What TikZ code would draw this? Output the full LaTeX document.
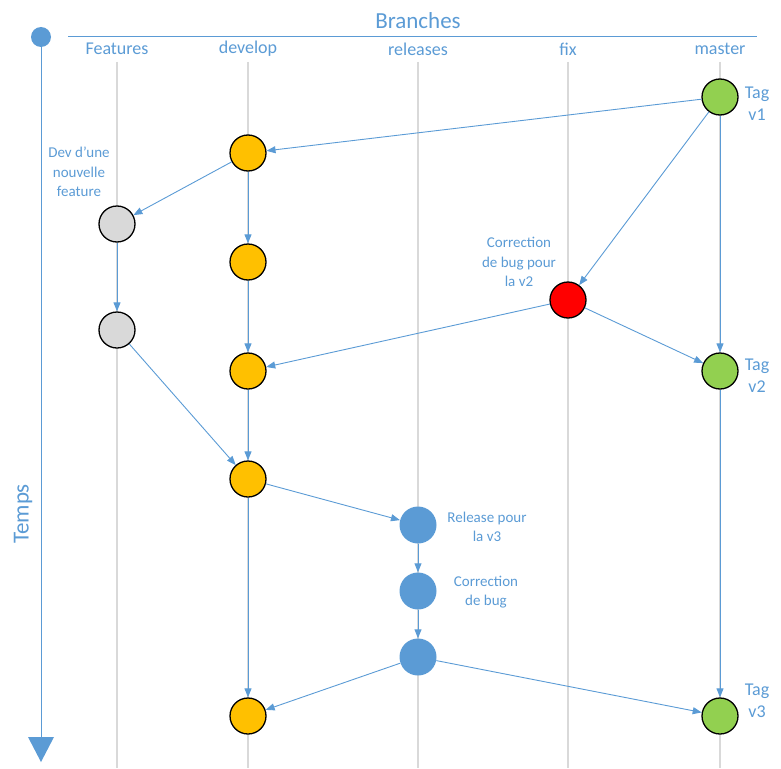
\documentclass[tikz,border=0pt]{standalone}
\usepackage{fontspec}
\setmainfont{Carlito}
\usetikzlibrary{arrows.meta}
\definecolor{cblue}{HTML}{5B9BD5}
\definecolor{cgray}{HTML}{D9D9D9}
\definecolor{corange}{HTML}{FFC000}
\definecolor{cgreen}{HTML}{92D050}
\definecolor{cred}{HTML}{FF0000}
\tikzset{
  commit/.style={circle,minimum size=36pt,inner sep=0pt,draw=black,line width=1.3pt},
  dv/.style={commit,fill=corange},
  ft/.style={commit,fill=cgray},
  ms/.style={commit,fill=cgreen},
  fx/.style={commit,fill=cred},
  rl/.style={circle,minimum size=37pt,inner sep=0pt,fill=cblue},
  lane/.style={draw=cgray,line width=1.3pt},
  conn/.style={draw=cblue,line width=0.9pt,-{Triangle[length=9pt,width=7pt]}},
  note/.style={text=cblue,font=\fontsize{15}{19.5}\selectfont,align=center},
  tag/.style={text=cblue,font=\fontsize{18}{22}\selectfont,align=center},
  colhead/.style={text=cblue,font=\fontsize{18}{20}\selectfont},
}
\begin{document}
\begin{tikzpicture}[x=1pt,y=-1pt]
\useasboundingbox (0,0) rectangle (781,768);
% lanes
\foreach \x/\n in {117/lf,248/ld,418/lr,568/lx,720/lm}{
  \coordinate (\n t) at (\x,62);
  \coordinate (\n b) at (\x,768);
  \draw[lane] (\n t) -- (\n b);
}
% header
\node[text=cblue,font=\fontsize{23}{25}\selectfont] (title) at (418,21) {Branches};
\coordinate (hl) at (68,36);
\coordinate (hr) at (757,36);
\draw[cblue,line width=0.9pt] (hl) -- (hr);
\node[colhead] (hf) at (117,49) {Features};
\node[colhead] (hd) at (248,49) {develop};
\node[colhead] (hr2) at (418,49) {releases};
\node[colhead] (hx) at (568,49) {fix};
\node[colhead] (hm) at (720,49) {master};
% time axis
\node[circle,fill=cblue,minimum size=20pt,inner sep=0pt] (t0) at (41,37) {};
\coordinate (tend) at (41,740);
\draw[cblue,line width=0.9pt] (t0) -- (tend);
\fill[cblue] (28,737) -- (54,737) -- (41,762) -- cycle;
\node[text=cblue,font=\fontsize{23}{25}\selectfont,rotate=90] (temps) at (23,514) {Temps};
% commits
\node[ms] (m1) at (720,97) {};
\node[dv] (d1) at (248,153) {};
\node[ft] (f1) at (117,224) {};
\node[dv] (d2) at (248,262) {};
\node[fx] (x1) at (568,300) {};
\node[ft] (f2) at (117,330) {};
\node[dv] (d3) at (248,371) {};
\node[ms] (m2) at (720,371) {};
\node[dv] (d4) at (248,479) {};
\node[rl] (r1) at (418,525) {};
\node[rl] (r2) at (418,591) {};
\node[rl] (r3) at (418,657) {};
\node[dv] (d5) at (248,716) {};
\node[ms] (m3) at (720,716) {};
% connectors
\draw[conn] (m1) -- (d1);
\draw[conn] (m1) -- (x1);
\draw[conn] (m1) -- (m2);
\draw[conn] (d1) -- (f1);
\draw[conn] (d1) -- (d2);
\draw[conn] (d2) -- (d3);
\draw[conn] (f1) -- (f2);
\draw[conn] (x1) -- (d3);
\draw[conn] (x1) -- (m2);
\draw[conn] (f2) -- (d4);
\draw[conn] (d3) -- (d4);
\draw[conn] (d4) -- (r1);
\draw[conn] (r1) -- (r2);
\draw[conn] (r2) -- (r3);
\draw[conn] (r3) -- (d5);
\draw[conn] (r3) -- (m3);
\draw[conn] (m2) -- (m3);
\draw[conn] (d4) -- (d5);
% labels
\node[tag] (t1) at (757,104) {Tag\\v1};
\node[tag] (t2) at (757,376) {Tag\\v2};
\node[tag] (t3) at (757,701) {Tag\\v3};
\node[note] (n1) at (79,172) {Dev d’une\\nouvelle\\feature};
\node[note] (n2) at (519,262) {Correction\\de bug pour\\la v2};
\node[note] (n3) at (487,527) {Release pour\\la v3};
\node[note] (n4) at (486,592) {Correction\\de bug};
\end{tikzpicture}
\end{document}
